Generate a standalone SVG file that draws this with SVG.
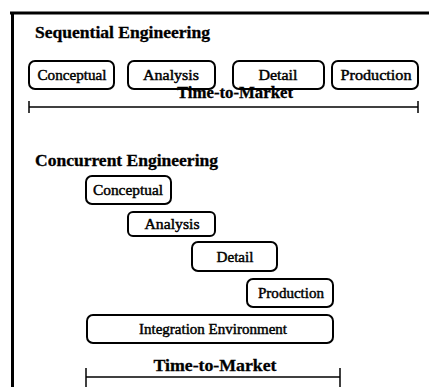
<svg xmlns="http://www.w3.org/2000/svg" width="429" height="387" viewBox="0 0 429 387">
<style>
.box{fill:#fff;stroke:#000;stroke-width:2}
.lbl{font-family:"Liberation Serif","Times New Roman",serif;font-size:14.5px;fill:#000;text-anchor:middle;stroke:#000;stroke-width:0.45}
.title{font-family:"Liberation Serif","Times New Roman",serif;font-size:16px;font-weight:bold;fill:#000;stroke:#000;stroke-width:0.3}
.ttm{font-family:"Liberation Serif","Times New Roman",serif;font-size:16px;font-weight:bold;fill:#000;text-anchor:middle;stroke:#000;stroke-width:0.3}
.ln{stroke:#000;stroke-width:1.5;fill:none}
</style>
<rect width="429" height="387" fill="#fff"/>
<g id="frame">
<line x1="10" y1="13" x2="429" y2="13" stroke="#000" stroke-width="3"/>
<line x1="12.5" y1="12" x2="12.5" y2="387" stroke="#000" stroke-width="3"/>
</g>
<text class="title" x="35" y="38" textLength="175" lengthAdjust="spacingAndGlyphs">Sequential Engineering</text>
<g id="seq-conceptual"><rect class="box" x="29" y="61" width="85" height="28" rx="6"/><text class="lbl" x="72" y="80" textLength="69" lengthAdjust="spacingAndGlyphs">Conceptual</text></g>
<g id="seq-analysis"><rect class="box" x="128" y="61" width="87" height="28" rx="6"/><text class="lbl" x="171" y="80" textLength="56" lengthAdjust="spacingAndGlyphs">Analysis</text></g>
<g id="seq-detail"><rect class="box" x="233" y="61" width="91" height="28" rx="6"/><text class="lbl" x="278" y="80" textLength="39" lengthAdjust="spacingAndGlyphs">Detail</text></g>
<g id="seq-production"><rect class="box" x="332" y="61" width="86" height="28" rx="6"/><text class="lbl" x="376" y="80" textLength="71" lengthAdjust="spacingAndGlyphs">Production</text></g>
<g id="seq-ttm">
<text class="ttm" x="235" y="98" textLength="116" lengthAdjust="spacingAndGlyphs">Time-to-Market</text>
<line class="ln" x1="29" y1="107" x2="418" y2="107"/>
<line class="ln" x1="29" y1="101" x2="29" y2="113"/>
<line class="ln" x1="418" y1="101" x2="418" y2="113"/>
</g>
<text class="title" x="35" y="166" textLength="183" lengthAdjust="spacingAndGlyphs">Concurrent Engineering</text>
<g id="con-conceptual"><rect class="box" x="86" y="176" width="85" height="28" rx="6"/><text class="lbl" x="128" y="195" textLength="70" lengthAdjust="spacingAndGlyphs">Conceptual</text></g>
<g id="con-analysis"><rect class="box" x="128" y="212" width="87" height="24" rx="5"/><text class="lbl" x="172" y="229" textLength="55" lengthAdjust="spacingAndGlyphs">Analysis</text></g>
<g id="con-detail"><rect class="box" x="192" y="242" width="85" height="29" rx="6"/><text class="lbl" x="235" y="262" textLength="37" lengthAdjust="spacingAndGlyphs">Detail</text></g>
<g id="con-production"><rect class="box" x="247" y="279" width="86" height="28" rx="6"/><text class="lbl" x="291" y="298" textLength="66" lengthAdjust="spacingAndGlyphs">Production</text></g>
<g id="con-integration"><rect class="box" x="87" y="315" width="246" height="28" rx="6"/><text class="lbl" x="213" y="334" textLength="148" lengthAdjust="spacingAndGlyphs">Integration Environment</text></g>
<g id="con-ttm">
<text class="ttm" x="215" y="371" textLength="123" lengthAdjust="spacingAndGlyphs">Time-to-Market</text>
<line class="ln" x1="86" y1="377" x2="340" y2="377"/>
<line class="ln" x1="86" y1="368" x2="86" y2="387"/>
<line class="ln" x1="340" y1="368" x2="340" y2="387"/>
</g>
</svg>
